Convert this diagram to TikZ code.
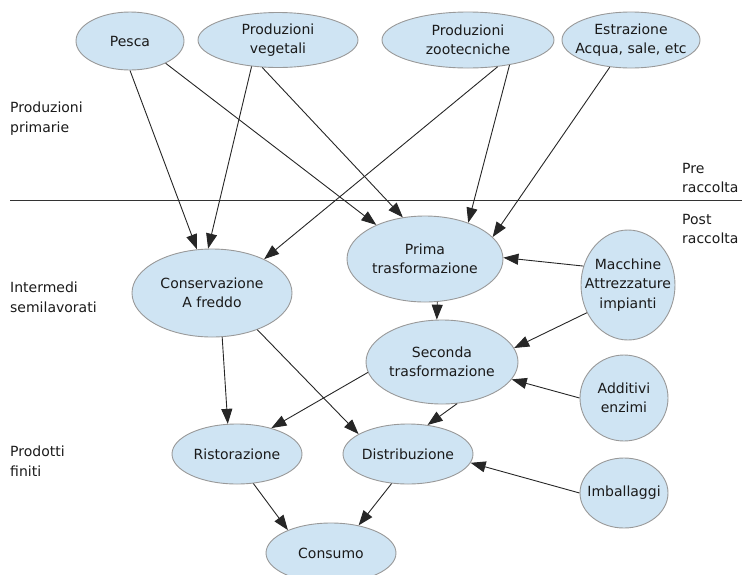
\documentclass[tikz,border=0pt]{standalone}
\usepackage{fontspec}
\setmainfont{DejaVu Sans}
\usetikzlibrary{shapes.geometric,arrows.meta}
\definecolor{nodefill}{HTML}{CFE4F3}
\definecolor{nodeline}{HTML}{999999}
\definecolor{txt}{HTML}{1A1A1A}
\tikzset{
  ell/.style={ellipse,draw=nodeline,fill=nodefill,line width=0.9pt,inner sep=-25pt,align=center,text=txt,
    font=\fontsize{14}{19.5}\selectfont},
  conn/.style={draw=black!85,line width=0.9pt,-{Triangle[length=15pt,width=11pt]}},
  lbl/.style={anchor=north west,align=left,inner sep=0pt,text=txt,font=\fontsize{14}{19.5}\selectfont}
}
\begin{document}
\begin{tikzpicture}[x=1pt,y=-1pt]
\useasboundingbox (0,0) rectangle (742,574);
\clip (0,0) rectangle (742,574);
% nodes
\node[ell,minimum width=108pt,minimum height=58pt] (pesca) at (130,41) {Pesca};
\node[ell,minimum width=160pt,minimum height=55pt] (veg) at (278,40) {Produzioni\\vegetali};
\node[ell,minimum width=172pt,minimum height=56pt] (zoo) at (468,40) {Produzioni\\zootecniche};
\node[ell,minimum width=138pt,minimum height=56pt] (estr) at (631,40) {Estrazione\\Acqua, sale, etc};
\node[ell,minimum width=156pt,minimum height=86pt] (prima) at (425,259) {Prima\\trasformazione};
\node[ell,minimum width=94pt,minimum height=110pt] (macch) at (628,285) {Macchine\\Attrezzature\\impianti};
\node[ell,minimum width=160pt,minimum height=88pt] (cons) at (212,293) {Conservazione\\A freddo};
\node[ell,minimum width=152pt,minimum height=84pt] (sec) at (442,362) {Seconda\\trasformazione};
\node[ell,minimum width=88pt,minimum height=86pt] (add) at (624,398) {Additivi\\enzimi};
\node[ell,minimum width=130pt,minimum height=60pt] (rist) at (237,454) {Ristorazione};
\node[ell,minimum width=130pt,minimum height=60pt] (distr) at (408,454) {Distribuzione};
\node[ell,minimum width=88pt,minimum height=70pt] (imb) at (624,493) {Imballaggi};
\node[ell,minimum width=130pt,minimum height=60pt] (consumo) at (331,553) {Consumo};
% separator
\coordinate (sepL) at (10,200);
\coordinate (sepR) at (742,200);
\draw[black!80,line width=0.9pt] (sepL) -- (sepR);
% labels
\node[lbl] (l1) at (10,102) {Produzioni\\primarie};
\node[lbl] (l2) at (682,163) {Pre\\raccolta};
\node[lbl] (l3) at (682,214) {Post\\raccolta};
\node[lbl] (l4) at (10,282) {Intermedi\\semilavorati};
\node[lbl] (l5) at (10,446) {Prodotti\\finiti};
% connectors
\draw[conn] (pesca.-90) -- (cons.109);
\draw[conn] (pesca.-32) -- (prima.145);
\draw[conn] (veg.-135) -- (cons.95);
\draw[conn] (veg.-120) -- (prima.118);
\draw[conn] (zoo.-42) -- (cons.33);
\draw[conn] (zoo.-31) -- (prima.40);
\draw[conn] (estr.-128) -- (prima.18);
\draw[conn] (macch.157) -- (prima.1);
\draw[conn] (macch.-146) -- (sec.11);
\draw[conn] (prima.-74) -- (sec.97);
\draw[conn] (add.180) -- (sec.-14);
\draw[conn] (cons.-77) -- (rist.107);
\draw[conn] (cons.-39) -- (distr.158);
\draw[conn] (sec.-172) -- (rist.37);
\draw[conn] (sec.-70) -- (distr.56);
\draw[conn] (imb.180) -- (distr.-8);
\draw[conn] (rist.-61) -- (consumo.152);
\draw[conn] (distr.-119) -- (consumo.45);
\end{tikzpicture}
\end{document}
